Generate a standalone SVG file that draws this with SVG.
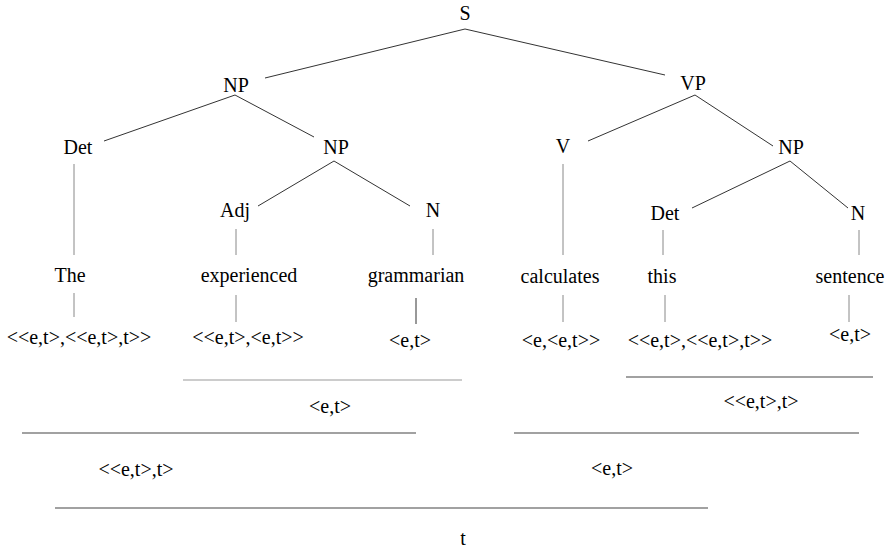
<svg xmlns="http://www.w3.org/2000/svg" width="892" height="550" viewBox="0 0 892 550">
  <style>
    .lbl { font-family: 'Liberation Serif', 'Times New Roman', Times, serif; font-size: 20px; fill: #000; text-anchor: middle; }
    .edge { stroke: #333; stroke-width: 1; fill: none; }
    .soft { stroke: #888; stroke-width: 1; fill: none; }
    .rule { stroke: #444; stroke-width: 1.2; fill: none; }
    .rule-light { stroke: #999; stroke-width: 1.2; fill: none; }
  </style>
  <rect width="892" height="550" fill="#fff"/>

  <!-- tree branches -->
  <g id="connectors">
    <line class="edge" x1="465" y1="29" x2="265" y2="78"/>
    <line class="edge" x1="465" y1="29" x2="665" y2="75"/>
    <line class="edge" x1="235" y1="95" x2="104" y2="141"/>
    <line class="edge" x1="235" y1="95" x2="314" y2="137"/>
    <line class="edge" x1="334" y1="161" x2="258" y2="206"/>
    <line class="edge" x1="334" y1="161" x2="410" y2="206"/>
    <line class="edge" x1="695" y1="95" x2="588" y2="141"/>
    <line class="edge" x1="695" y1="95" x2="773" y2="146"/>
    <line class="edge" x1="790" y1="161" x2="692" y2="208"/>
    <line class="edge" x1="790" y1="161" x2="848" y2="208"/>
    <!-- category to word -->
    <line class="soft" x1="74" y1="164" x2="74" y2="255"/>
    <line class="soft" x1="236" y1="229" x2="236" y2="255"/>
    <line class="soft" x1="433" y1="229" x2="433" y2="255"/>
    <line class="soft" x1="563" y1="164" x2="563" y2="255"/>
    <line class="soft" x1="663" y1="230" x2="663" y2="255"/>
    <line class="soft" x1="859" y1="230" x2="859" y2="255"/>
    <!-- word to type -->
    <line class="soft" x1="74" y1="293" x2="74" y2="317"/>
    <line class="soft" x1="236" y1="295" x2="236" y2="322"/>
    <line class="edge" x1="416" y1="298" x2="416" y2="324"/>
    <line class="soft" x1="563" y1="295" x2="563" y2="322"/>
    <line class="soft" x1="665" y1="295" x2="665" y2="322"/>
    <line class="soft" x1="849" y1="295" x2="849" y2="322"/>
    <!-- composition rules -->
    <line class="rule-light" x1="183" y1="380" x2="462" y2="380"/>
    <line class="rule" x1="626" y1="377" x2="873" y2="377"/>
    <line class="rule" x1="22" y1="433" x2="416" y2="433"/>
    <line class="rule" x1="514" y1="433" x2="859" y2="433"/>
    <line class="rule" x1="55" y1="508" x2="708" y2="508"/>
  </g>

  <!-- phrase structure nodes -->
  <g id="n-s"><text class="lbl" x="465" y="20">S</text></g>
  <g id="n-np-subj"><text class="lbl" x="236" y="92">NP</text></g>
  <g id="n-vp"><text class="lbl" x="693" y="90">VP</text></g>
  <g id="n-det1"><text class="lbl" x="78" y="154">Det</text></g>
  <g id="n-np-inner"><text class="lbl" x="336" y="154">NP</text></g>
  <g id="n-v"><text class="lbl" x="563" y="153">V</text></g>
  <g id="n-np-obj"><text class="lbl" x="791" y="154">NP</text></g>
  <g id="n-adj"><text class="lbl" x="235" y="217">Adj</text></g>
  <g id="n-n1"><text class="lbl" x="433" y="217">N</text></g>
  <g id="n-det2"><text class="lbl" x="665" y="220">Det</text></g>
  <g id="n-n2"><text class="lbl" x="858" y="220">N</text></g>

  <!-- words -->
  <g id="w-the"><text class="lbl" x="70" y="282">The</text></g>
  <g id="w-experienced"><text class="lbl" x="249" y="282">experienced</text></g>
  <g id="w-grammarian"><text class="lbl" x="416" y="282">grammarian</text></g>
  <g id="w-calculates"><text class="lbl" x="560" y="283">calculates</text></g>
  <g id="w-this"><text class="lbl" x="662" y="283">this</text></g>
  <g id="w-sentence"><text class="lbl" x="850" y="283">sentence</text></g>

  <!-- lexical types -->
  <g id="t-the"><text class="lbl" x="79" y="344">&lt;&lt;e,t&gt;,&lt;&lt;e,t&gt;,t&gt;&gt;</text></g>
  <g id="t-experienced"><text class="lbl" x="248" y="344">&lt;&lt;e,t&gt;,&lt;e,t&gt;&gt;</text></g>
  <g id="t-grammarian"><text class="lbl" x="410" y="347">&lt;e,t&gt;</text></g>
  <g id="t-calculates"><text class="lbl" x="561" y="347">&lt;e,&lt;e,t&gt;&gt;</text></g>
  <g id="t-this"><text class="lbl" x="700" y="347">&lt;&lt;e,t&gt;,&lt;&lt;e,t&gt;,t&gt;&gt;</text></g>
  <g id="t-sentence"><text class="lbl" x="850" y="341">&lt;e,t&gt;</text></g>

  <!-- derived types -->
  <g id="t-adj-n"><text class="lbl" x="330" y="413">&lt;e,t&gt;</text></g>
  <g id="t-this-sentence"><text class="lbl" x="761" y="408">&lt;&lt;e,t&gt;,t&gt;</text></g>
  <g id="t-subject"><text class="lbl" x="136" y="476">&lt;&lt;e,t&gt;,t&gt;</text></g>
  <g id="t-vp"><text class="lbl" x="612" y="475">&lt;e,t&gt;</text></g>
  <g id="t-sentence-root"><text class="lbl" x="463" y="545">t</text></g>
</svg>
